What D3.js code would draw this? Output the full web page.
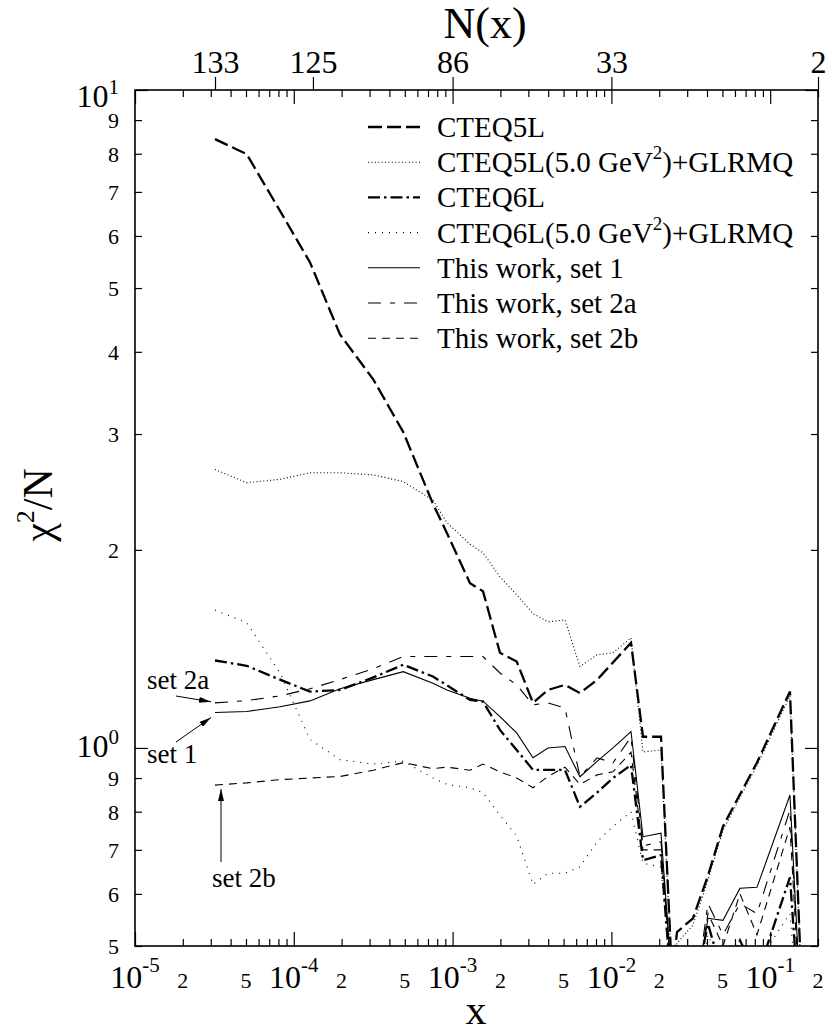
<!DOCTYPE html>
<html>
<head>
<meta charset="utf-8">
<script src="https://cdn.jsdelivr.net/npm/d3@7"></script>
<style>
  body { margin: 0; background: #fff; }
  text { font-family: "Liberation Serif", "Times New Roman", serif; fill: #000; }
</style>
</head>
<body>
<div id="chart"></div>
<script>
// x of the data points (lower x cut) and chi^2/N of each fit
const xValues = [3.19e-5, 5.05e-5, 8.19e-5, 1.265e-4, 1.954e-4, 3.17e-4, 4.89e-4, 7.52e-4, 9.22e-4,
  1.287e-3, 1.554e-3, 1.988e-3, 2.533e-3, 3.208e-3, 3.988e-3, 5.10e-3, 6.34e-3, 8.12e-3, 1.023e-2,
  1.329e-2, 1.581e-2, 2.053e-2, 2.408e-2, 2.589e-2, 3.265e-2, 4.059e-2, 5.044e-2, 6.452e-2, 8.256e-2,
  0.1332, 0.1656]

const cteq5l = [8.42, 7.99, 6.55, 5.47, 4.25, 3.63, 3.02, 2.35, 2.12, 1.78, 1.73, 1.395, 1.353, 1.171,
  1.225, 1.247, 1.212, 1.269, 1.349, 1.445, 1.04, 1.04, 0.45, 0.525, 0.551, 0.64, 0.76, 0.85, 0.95, 1.218, 0.32]
const cteq5lGlrmq = [2.65, 2.53, 2.56, 2.62, 2.62, 2.60, 2.54, 2.38, 2.2, 2.04, 1.98, 1.82, 1.71, 1.60,
  1.555, 1.565, 1.33, 1.385, 1.395, 1.47, 0.986, 0.993, 0.45, 0.505, 0.538, 0.63, 0.75, 0.84, 0.94, 1.20, 0.32]
const cteq6l = [1.358, 1.333, 1.27, 1.218, 1.225, 1.28, 1.338, 1.284, 1.245, 1.183, 1.176, 1.065, 0.993,
  0.926, 0.926, 0.926, 0.814, 0.855, 0.90, 0.942, 0.675, 0.687, 0.42, 0.40, 0.42, 0.54, 0.45, 0.51, 0.45, 0.636, 0.30]
const cteq6lGlrmq = [1.62, 1.55, 1.30, 1.03, 0.96, 0.945, 0.955, 0.90, 0.88, 0.87, 0.855, 0.79, 0.735,
  0.62, 0.645, 0.645, 0.66, 0.72, 0.76, 0.80, 0.668, 0.659, 0.42, 0.42, 0.40, 0.52, 0.46, 0.50, 0.47, 0.56, 0.30]
const set1 = [1.132, 1.136, 1.155, 1.179, 1.23, 1.27, 1.306, 1.254, 1.225, 1.19, 1.178, 1.116, 1.054,
  0.966, 1.0, 1.005, 0.904, 0.954, 1.0, 1.059, 0.733, 0.742, 0.44, 0.42, 0.40, 0.551, 0.547, 0.612, 0.614, 0.848, 0.30]
const set2a = [1.171, 1.18, 1.20, 1.23, 1.27, 1.32, 1.377, 1.377, 1.377, 1.377, 1.377, 1.30, 1.247,
  1.163, 1.171, 1.15, 0.904, 0.966, 0.949, 1.039, 0.71, 0.72, 0.44, 0.42, 0.40, 0.58, 0.52, 0.58, 0.56, 0.805, 0.30]
const set2b = [0.878, 0.885, 0.895, 0.90, 0.905, 0.925, 0.95, 0.93, 0.935, 0.925, 0.945, 0.92, 0.90,
  0.87, 0.905, 0.935, 0.88, 0.91, 0.92, 0.985, 0.70, 0.70, 0.44, 0.42, 0.40, 0.56, 0.50, 0.60, 0.52, 0.758, 0.30]

const legendLabels = ['CTEQ5L', 'CTEQ5L(5.0 GeV²)+GLRMQ', 'CTEQ6L', 'CTEQ6L(5.0 GeV²)+GLRMQ',
  'This work, set 1', 'This work, set 2a', 'This work, set 2b']

// top axis: number of data points N(x) above the cut
const nTickX = [3.19e-5, 1.32e-4, 1e-3, 1e-2, 0.2]
const nTickLabels = ['133', '125', '86', '33', '2']

// Our canvas
const width = 830, height = 1036
const plotLeft = 135, plotRight = 818, plotTop = 90, plotBottom = 946

let svg = d3.select('#chart')
  .append('svg')
  .attr('width', width)
  .attr('height', height)

let xScale = d3.scaleLog().domain([1e-5, 0.2]).range([plotLeft, plotRight])
let yScale = d3.scaleLog().domain([0.5, 10]).range([plotBottom, plotTop])

// styles of the seven curves, same order as the legend
const series = [cteq5l, cteq5lGlrmq, cteq6l, cteq6lGlrmq, set1, set2a, set2b]
const styles = [
  { w: 2.3, dash: '14,5' },
  { w: 1.1, dash: '1,2.4' },
  { w: 2.3, dash: '12,4,2.5,4' },
  { w: 1.1, dash: '1,6' },
  { w: 1.1, dash: null },
  { w: 1.1, dash: '13,9,5,9' },
  { w: 1.1, dash: '8,6' }
]

// tick values (decades and 2..9)
let xMajor = [], xMinor = [], yMajor = [1, 10], yMinor = []
for (let e = -5; e <= -1; e++) {
  xMajor.push(Math.pow(10, e))
  for (let m = 2; m <= 9; m++) {
    let v = m * Math.pow(10, e)
    if (v <= 0.2 + 1e-12) xMinor.push(v)
  }
}
for (let m = 5; m <= 9; m++) yMinor.push(m / 10)
for (let m = 2; m <= 9; m++) yMinor.push(m)

let noLabel = g => g.call(s => s.select('.domain').remove()).selectAll('text').remove()
let tickStyle = g => g.selectAll('line').attr('stroke', '#000').attr('stroke-width', 1.2)

// inward ticks on all four sides
let addTicks = (axisFn, values, size, tr) => {
  svg.append('g')
    .attr('transform', tr)
    .call(axisFn.tickValues(values).tickSize(size).tickFormat(''))
    .call(noLabel)
    .call(tickStyle)
}
addTicks(d3.axisTop(xScale), xMinor, 7, `translate(0,${plotBottom})`)
addTicks(d3.axisTop(xScale), xMajor, 14, `translate(0,${plotBottom})`)
addTicks(d3.axisBottom(xScale), xMinor, 7, `translate(0,${plotTop})`)
addTicks(d3.axisBottom(xScale), xMajor, 14, `translate(0,${plotTop})`)
addTicks(d3.axisRight(yScale), yMinor, 7, `translate(${plotLeft},0)`)
addTicks(d3.axisRight(yScale), yMajor, 13, `translate(${plotLeft},0)`)
addTicks(d3.axisLeft(yScale), yMinor, 7, `translate(${plotRight},0)`)
addTicks(d3.axisLeft(yScale), yMajor, 13, `translate(${plotRight},0)`)

// N(x) axis on top, ticks outward
let nAxis = svg.append('g')
  .attr('transform', `translate(0,${plotTop})`)
  .call(d3.axisTop(xScale).tickValues(nTickX).tickSize(13).tickPadding(4)
    .tickFormat((d, i) => nTickLabels[i]))
nAxis.select('.domain').remove()
nAxis.call(tickStyle)
nAxis.selectAll('text')
  .attr('font-size', 32)
  .attr('font-family', '"Liberation Serif", serif')
  .attr('fill', '#000')

// frame
svg.append('rect')
  .attr('x', plotLeft).attr('y', plotTop)
  .attr('width', plotRight - plotLeft).attr('height', plotBottom - plotTop)
  .attr('fill', 'none').attr('stroke', '#000').attr('stroke-width', 1.6)

// bottom tick labels
xMajor.forEach(v => {
  let t = svg.append('text')
    .attr('x', xScale(v)).attr('y', 988)
    .attr('text-anchor', 'middle')
    .attr('font-size', 32)
  t.append('tspan').text('10')
  t.append('tspan').attr('font-size', 21).attr('dy', -16).text(Math.round(Math.log10(v)))
})
let mantissa = v => Math.round(v / Math.pow(10, Math.floor(Math.log10(v) + 1e-9)))
xMinor.filter(v => mantissa(v) === 2 || mantissa(v) === 5).forEach(v => {
  svg.append('text')
    .attr('x', xScale(v)).attr('y', 988)
    .attr('text-anchor', 'middle')
    .attr('font-size', 22)
    .text(mantissa(v))
})

// left tick labels
yMinor.forEach(v => {
  svg.append('text')
    .attr('x', 119).attr('y', yScale(v) + 8)
    .attr('text-anchor', 'end')
    .attr('font-size', 22)
    .text(mantissa(v))
})
yMajor.forEach(v => {
  let t = svg.append('text')
    .attr('x', 119).attr('y', Math.max(yScale(v) + 9, plotTop + 17))
    .attr('text-anchor', 'end')
    .attr('font-size', 32)
  t.append('tspan').text('10')
  t.append('tspan').attr('font-size', 21).attr('dy', -13).text(Math.round(Math.log10(v)))
})

// axis titles
svg.append('text')
  .attr('x', 485).attr('y', 38)
  .attr('text-anchor', 'middle')
  .attr('font-size', 44)
  .text('N(x)')

svg.append('text')
  .attr('x', 476).attr('y', 1024)
  .attr('text-anchor', 'middle')
  .attr('font-size', 42)
  .text('x')

let yTitle = svg.append('text')
  .attr('transform', 'translate(52,505) rotate(-90)')
  .attr('text-anchor', 'middle')
  .attr('font-size', 42)
yTitle.append('tspan').text('χ')
yTitle.append('tspan').attr('font-size', 26).attr('dy', -18).text('2')
yTitle.append('tspan').attr('dy', 18).text('/N')

// curves
svg.append('clipPath').attr('id', 'plotArea')
  .append('rect')
  .attr('x', plotLeft).attr('y', plotTop)
  .attr('width', plotRight - plotLeft).attr('height', plotBottom - plotTop)

let line = d3.line()
  .x(d => xScale(d[0]))
  .y(d => yScale(d[1]))

let curves = svg.append('g').attr('clip-path', 'url(#plotArea)')
series.forEach((vals, i) => {
  curves.append('path')
    .datum(xValues.map((x, j) => [x, vals[j]]))
    .attr('d', line)
    .attr('fill', 'none')
    .attr('stroke', '#000')
    .attr('stroke-width', styles[i].w)
    .attr('stroke-dasharray', styles[i].dash)
})

// legend
let legend = svg.append('g')
legendLabels.forEach((lab, i) => {
  let cy = 127 + i * 35.2
  legend.append('line')
    .attr('x1', 368).attr('x2', 420)
    .attr('y1', cy).attr('y2', cy)
    .attr('stroke', '#000')
    .attr('stroke-width', styles[i].w)
    .attr('stroke-dasharray', styles[i].dash)
  let t = legend.append('text')
    .attr('x', 437).attr('y', cy + 10)
    .attr('font-size', 29)
  let parts = lab.split('²')
  t.append('tspan').text(parts[0])
  if (parts.length > 1) {
    t.append('tspan').attr('font-size', 19).attr('dy', -13).text('2')
    t.append('tspan').attr('dy', 13).text(parts[1])
  }
})

// arrows pointing at the start of the new fits
svg.append('defs').append('marker')
  .attr('id', 'head')
  .attr('viewBox', '0 0 12 6')
  .attr('refX', 12).attr('refY', 3)
  .attr('markerWidth', 12).attr('markerHeight', 6)
  .attr('markerUnits', 'userSpaceOnUse')
  .attr('orient', 'auto')
  .append('path').attr('d', 'M0,0 L12,3 L0,6 Z').attr('fill', '#000')

let note = (label, tx, ty, x1, y1, x2, y2) => {
  svg.append('text').attr('x', tx).attr('y', ty).attr('font-size', 27).text(label)
  svg.append('line')
    .attr('x1', x1).attr('y1', y1).attr('x2', x2).attr('y2', y2)
    .attr('stroke', '#000').attr('stroke-width', 1)
    .attr('marker-end', 'url(#head)')
}
let x0 = xScale(xValues[0])
note('set 2a', 147, 689, 176, 696, x0 - 4, yScale(set2a[0]) - 1)
note('set 1', 147, 763, 176, 742, x0 - 4, yScale(set1[0]) + 5)
note('set 2b', 212, 887, x0 + 6, 862, x0 + 6, yScale(set2b[0]) + 4)
</script>
</body>
</html>
